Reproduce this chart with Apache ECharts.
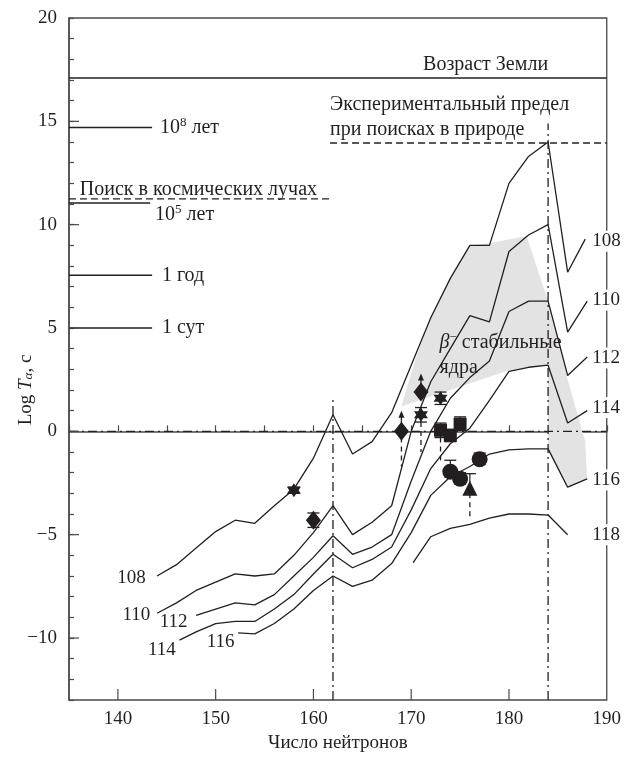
<!DOCTYPE html>
<html><head><meta charset="utf-8">
<script src="https://cdn.jsdelivr.net/npm/echarts/dist/echarts.min.js"></script>
<style>html,body{margin:0;padding:0;background:#fff}#c{width:624px;height:758px}</style>
</head><body><div id="c"></div>
<script>
// ---------- data ----------
const X_MIN = 135, X_MAX = 190, Y_MIN = -13, Y_MAX = 20;
const xMajorTicks = [140, 150, 160, 170, 180];
const yMajorTicks = [-10, -5, 0, 5, 10, 15];

const z108 = [[144,-7.0],[146,-6.45],[148,-5.65],[150,-4.85],[152,-4.3],[154,-4.45],[156,-3.6],[158,-2.8],[160,-1.3],[162,0.8],[164,-1.1],[166,-0.5],[168,0.9],[170,3.2],[172,5.5],[174,7.4],[176,9.0],[178,9.0],[180,12.0],[182,13.3],[184,14.0],[186,7.7],[187.8,9.3]];
const z110 = [[144,-8.8],[146,-8.3],[148,-7.7],[150,-7.3],[152,-6.9],[154,-7.0],[156,-6.9],[158,-6.0],[160,-4.9],[162,-3.6],[164,-5.0],[166,-4.4],[168,-3.6],[170,0.0],[172,2.4],[174,4.0],[176,5.6],[178,5.3],[180,8.7],[182,9.5],[184,10.0],[186,4.8],[188,6.3]];
const z112 = [[148,-8.9],[150,-8.6],[152,-8.3],[154,-8.4],[156,-7.9],[158,-7.0],[160,-6.1],[162,-5.05],[164,-5.95],[166,-5.6],[168,-5.0],[170,-2.4],[172,0.0],[174,1.6],[176,2.6],[178,3.4],[180,5.8],[182,6.3],[184,6.3],[186,2.7],[188,3.6]];
const z114 = [[146.3,-10.1],[148,-9.7],[150,-9.3],[152,-9.2],[154,-9.2],[156,-8.6],[158,-7.9],[160,-6.9],[162,-5.95],[164,-6.6],[166,-6.2],[168,-5.6],[170,-3.8],[172,-1.8],[174,-0.6],[176,0.15],[178,1.5],[180,2.9],[182,3.1],[184,3.2],[186,0.4],[188,1.0]];
const z116 = [[152.3,-9.75],[154,-9.8],[156,-9.3],[158,-8.6],[160,-7.7],[162,-7.0],[164,-7.5],[166,-7.2],[168,-6.4],[170,-4.9],[172,-3.1],[174,-2.2],[176,-1.7],[178,-1.1],[180,-0.9],[182,-0.85],[184,-0.85],[186,-2.7],[188,-2.3]];
const z118 = [[170.2,-6.35],[172,-5.1],[174,-4.7],[176,-4.5],[178,-4.2],[180,-4.0],[182,-4.0],[184,-4.05],[186,-5.0]];

const betaBand = [[169,1.2],[170.5,3.6],[172,5.5],[174,7.4],[176,9.0],[178,9.1],[181.8,9.45],[184,6.3],[186,2.5],[187.8,-0.5],[188,-2.3],[186.2,-2.7],[184,-0.85],[184,3.2],[180,2.95]];

const diamonds  = [[160,-4.3],[169,0.0],[171,1.9]];
const stars     = [[158,-2.85],[171,0.8],[173,1.6]];
const squares   = [[173,0.05],[174,-0.2],[175,0.35]];
const circles   = [[174,-1.95],[175,-2.3],[177,-1.35]];
const triangles = [[176,-2.75]];
// error bars: [x, low, high]
const errorBars = [[158,-3.0,-2.7],[160,-4.65,-3.95],[171,0.45,1.15],[173,1.3,1.9],[173,-0.3,0.4],[174,-0.5,0.1],[175,0.05,0.7],[174,-2.2,-1.4],[175,-2.55,-2.0],[177,-1.6,-1.05],[176,-3.0,-2.05]];
// dashed stems below points: [x, from, to]
const dashedStems = [[169,-0.3,-1.7],[171,0.45,-1.0],[173,-0.3,-1.4],[176,-3.0,-4.2]];
// upward arrows (lower limits): [x, from, to]
const upArrows = [[169,0.3,1.0],[171,2.2,2.8]];

// reference lines
const solidH   = [[135,190,17.1],[135,143.5,14.7],[135,143.3,11.05],[135,143.5,7.55],[135,143.5,5.0]]; // [x1,x2,y]
const dashedH  = [[135,161.7,11.25],[161.7,190,13.95]];
const dashDotH = [[135,190,0]];
const dashDotV = [[162,-13,1.6],[184,-13,14.9]]; // [x,y1,y2]

// texts
const noteText = ['Возраст Земли','Экспериментальный предел','при поисках в природе','10{sup|8} лет','Поиск в космических лучах','10{sup|5} лет','1 год','1 сут','{it|β}{sup|−} стабильные','ядра'];
const notePos  = [[184.0,17.75],[161.7,15.8],[161.7,14.6],[144.3,14.7],[136.1,11.7],[143.8,10.5],[144.5,7.55],[144.5,5.0],[172.9,4.3],[172.9,3.1]];
const noteAlign = ['right','left','left','left','left','left','left','left','left','left'];

const rightLabels = ['108','110','112','114','116','118'];
const rightLabelPos = [[188.3,9.2],[188.3,6.35],[188.3,3.55],[188.3,1.15],[188.3,-2.35],[188.3,-5.0]];
const leftLabels = ['108','110','112','114','116'];
const leftLabelPos = [[141.4,-7.1],[141.9,-8.9],[145.7,-9.25],[144.5,-10.6],[150.5,-10.2]];

// ---------- chart ----------
const FONT = '"Liberation Serif","Times New Roman",serif';
const INK = '#231f20';
const AX = '#4a4a4a';
const chart = echarts.init(document.getElementById('c'), null, {renderer:'canvas'});

const richStyles = {
  sup: {fontFamily: FONT, fontSize: 13, padding: [0,0,9,0], fill: INK, color: INK},
  it:  {fontFamily: FONT, fontSize: 20, fontStyle: 'italic', color: INK}
};

function curve(data){
  return {type:'line', data, symbol:'none', lineStyle:{color:INK, width:1.3}, z:5, silent:true, animation:false};
}
function hSeg(data, dash, width){
  return {type:'custom', data, z:4, silent:true, clip:false, animation:false,
    renderItem(p, api){
      const a = api.coord([api.value(0), api.value(2)]);
      const b = api.coord([api.value(1), api.value(2)]);
      return {type:'line', shape:{x1:a[0],y1:a[1],x2:b[0],y2:b[1]}, style:{stroke:INK, lineWidth:width, lineDash:dash}};
    }};
}
function vSeg(data, dash, width){
  return {type:'custom', data, z:4, silent:true, clip:false, animation:false,
    renderItem(p, api){
      const a = api.coord([api.value(0), api.value(1)]);
      const b = api.coord([api.value(0), api.value(2)]);
      return {type:'line', shape:{x1:a[0],y1:a[1],x2:b[0],y2:b[1]}, style:{stroke:INK, lineWidth:width, lineDash:dash}};
    }};
}
function textSeries(texts, pos, aligns, bg, size){
  return {type:'custom', data: pos, z:8, silent:true, clip:false, animation:false,
    renderItem(p, api){
      const c = api.coord([api.value(0), api.value(1)]);
      return {type:'text', x:c[0], y:c[1], style:{
        text: texts[p.dataIndex], font: size + 'px ' + FONT, fill: INK,
        align: aligns ? aligns[p.dataIndex] : 'center', verticalAlign:'middle',
        rich: richStyles,
        backgroundColor: bg ? '#fff' : null, padding: bg ? [1,2,1,2] : 0
      }};
    }};
}
function scatter(data, symbol, size){
  return {type:'scatter', data, symbol, symbolSize:size, itemStyle:{color:INK, opacity:1}, z:7, silent:true, animation:false};
}

const starPath = 'path://M0,-10L2.9,-5L8.66,-5L5.8,0L8.66,5L2.9,5L0,10L-2.9,5L-8.66,5L-5.8,0L-8.66,-5L-2.9,-5Z';

const option = {
  animation:false,
  backgroundColor:'#fff',
  grid:{left:69, right:17, top:18, bottom:53, show:true, borderColor:AX, borderWidth:1.3, containLabel:false},
  xAxis:{type:'value', min:X_MIN, max:X_MAX, interval:5,
    name:'Число нейтронов', nameLocation:'middle', nameGap:34,
    nameTextStyle:{fontFamily:FONT, fontSize:19, color:INK},
    axisLine:{lineStyle:{color:AX, width:1.5}},
    axisTick:{inside:true, length:6, lineStyle:{color:AX, width:1.2}},
    axisLabel:{fontFamily:FONT, fontSize:19, color:INK, margin:10, formatter:v => (v % 10 === 0 ? String(v) : '')},
    splitLine:{show:false}},
  yAxis:{type:'value', min:Y_MIN, max:Y_MAX, interval:1,
    axisLine:{lineStyle:{color:AX, width:1.5}},
    axisTick:{inside:true, length:5, lineStyle:{color:AX, width:1.2}},
    axisLabel:{fontFamily:FONT, fontSize:19, color:INK, margin:12, formatter:v => (v % 5 === 0 ? String(v).replace('-', '\u2212') : '')},
    splitLine:{show:false}},
  graphic:[{type:'text', x:26, y:390, rotation:Math.PI/2, style:{
    text:'Log {it|T}{sub|α}, c', font:'19px ' + FONT, fill:INK, align:'center', verticalAlign:'middle',
    rich:{it:{fontFamily:FONT, fontSize:19, fontStyle:'italic', fill:INK}, sub:{fontFamily:FONT, fontSize:13, fontStyle:'italic', padding:[6,0,0,0], fill:INK}}}}],
  series:[
    {type:'custom', data:[[betaBand[0][0], betaBand[0][1]]], z:1, silent:true, clip:false, animation:false,
      renderItem(p, api){
        const pts = betaBand.map(d => api.coord(d));
        return {type:'polygon', shape:{points:pts}, style:{fill:'#e3e3e3', stroke:null}};
      }},
    // major ticks
    {type:'custom', data:xMajorTicks.map(v => [v]), z:6, silent:true, clip:false, animation:false,
      renderItem(p, api){
        const a = api.coord([api.value(0), Y_MIN]);
        return {type:'line', shape:{x1:a[0], y1:a[1], x2:a[0], y2:a[1]-11}, style:{stroke:AX, lineWidth:1.2}};
      }},
    {type:'custom', data:yMajorTicks.map(v => [X_MIN, v]), z:6, silent:true, clip:false, animation:false,
      renderItem(p, api){
        const a = api.coord([X_MIN, api.value(1)]);
        return {type:'line', shape:{x1:a[0], y1:a[1], x2:a[0]+10, y2:a[1]}, style:{stroke:AX, lineWidth:1.2}};
      }},
    hSeg(solidH, null, 1.4),
    hSeg(dashedH, [7,4], 1.4),
    hSeg(dashDotH, [9,4,2,4], 1.3),
    vSeg(dashDotV, [9,4,2,4], 1.3),
    curve(z108), curve(z110), curve(z112), curve(z114), curve(z116), curve(z118),
    vSeg(dashedStems, [5,4], 1.3),
    vSeg(errorBars, null, 1.2),
    {type:'custom', data:errorBars, z:6, silent:true, clip:false, animation:false,
      renderItem(p, api){
        const lo = api.coord([api.value(0), api.value(1)]);
        const hi = api.coord([api.value(0), api.value(2)]);
        return {type:'group', children:[
          {type:'line', shape:{x1:lo[0]-6, y1:lo[1], x2:lo[0]+6, y2:lo[1]}, style:{stroke:INK, lineWidth:1.3}},
          {type:'line', shape:{x1:hi[0]-6, y1:hi[1], x2:hi[0]+6, y2:hi[1]}, style:{stroke:INK, lineWidth:1.3}}
        ]};
      }},
    {type:'custom', data:upArrows, z:6, silent:true, clip:false, animation:false,
      renderItem(p, api){
        const a = api.coord([api.value(0), api.value(1)]);
        const b = api.coord([api.value(0), api.value(2)]);
        return {type:'group', children:[
          {type:'line', shape:{x1:a[0], y1:a[1], x2:b[0], y2:b[1]+4}, style:{stroke:INK, lineWidth:1.3}},
          {type:'polygon', shape:{points:[[b[0], b[1]], [b[0]-3, b[1]+7], [b[0]+3, b[1]+7]]}, style:{fill:INK}}
        ]};
      }},
    scatter(diamonds, 'diamond', [15,19]),
    scatter(stars, starPath, 14),
    scatter(squares, 'rect', 13),
    scatter(circles, 'circle', 16),
    scatter(triangles, 'triangle', 15),
    textSeries(noteText, notePos, noteAlign, false, 20),
    textSeries(rightLabels, rightLabelPos, rightLabels.map(() => 'left'), true, 19),
    textSeries(leftLabels, leftLabelPos, null, false, 19)
  ]
};
chart.setOption(option);
</script>
</body></html>
